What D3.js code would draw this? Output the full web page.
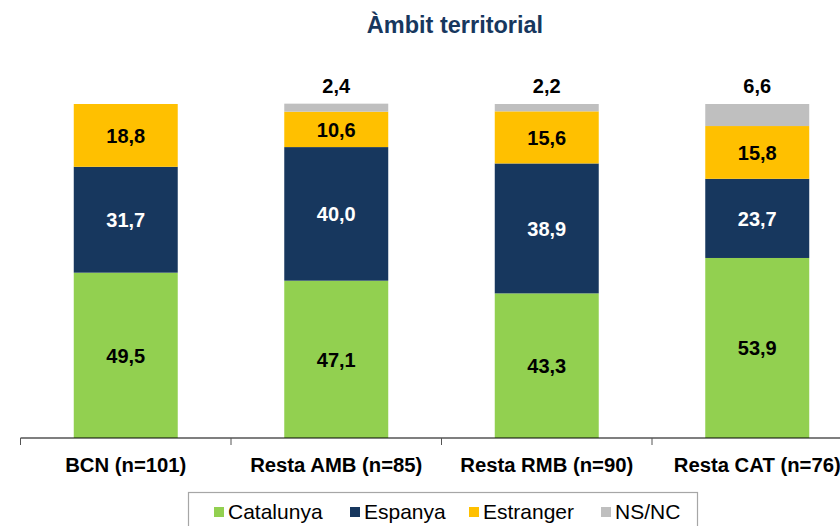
<!DOCTYPE html>
<html><head><meta charset="utf-8">
<script src="https://cdn.jsdelivr.net/npm/d3@7"></script>
<style>body{margin:0;background:#fff;}svg{display:block;font-family:"Liberation Sans",Arial,sans-serif;}</style>
</head><body><div id="chart"></div>
<script>
const categories = ["BCN (n=101)", "Resta AMB (n=85)", "Resta RMB (n=90)", "Resta CAT (n=76)"];
const seriesNames = ["Catalunya", "Espanya", "Estranger", "NS/NC"];
const catalunya = [49.5, 47.1, 43.3, 53.9];
const espanya = [31.7, 40.0, 38.9, 23.7];
const estranger = [18.8, 10.6, 15.6, 15.8];
const nsnc = [0, 2.4, 2.2, 6.6];
const colors = ["#92D050", "#17375E", "#FFC000", "#BFBFBF"];
const labelColors = ["#000", "#fff", "#000", "#000"];
const title = "Àmbit territorial";

const W = 840, H = 526;
const svg = d3.select("#chart").append("svg").attr("width", W).attr("height", H);

const x0 = 20.5, stepW = 210.5;
const x = d3.scaleBand().domain(categories).range([x0, x0 + stepW * categories.length])
  .paddingInner(0.506).paddingOuter(0.253);
const y = d3.scaleLinear().domain([0, 100]).range([438, 104]);

const values = [catalunya, espanya, estranger, nsnc];
const rows = categories.map((c, i) => {
  const o = {cat: c};
  seriesNames.forEach((s, j) => o[s] = values[j][i]);
  return o;
});
const stacked = d3.stack().keys(seriesNames)(rows);

svg.append("text").attr("x", 455).attr("y", 33).attr("text-anchor", "middle")
  .attr("font-size", 23.5).attr("font-weight", "bold").attr("fill", "#17375E").text(title);

stacked.forEach((layer, j) => {
  const g = svg.append("g");
  g.selectAll("rect").data(layer).join("rect")
    .attr("x", d => x(d.data.cat))
    .attr("width", x.bandwidth())
    .attr("y", d => y(d[1]))
    .attr("height", d => Math.max(0, y(d[0]) - y(d[1])))
    .attr("fill", colors[j]);
});

// segment labels
stacked.forEach((layer, j) => {
  if (j === 3) {
    svg.append("g").selectAll("text").data(layer.filter(d => d[1] - d[0] > 0)).join("text")
      .attr("x", d => x(d.data.cat) + x.bandwidth() / 2)
      .attr("y", d => y(d[1]) - 11)
      .attr("text-anchor", "middle").attr("font-size", 20).attr("font-weight", "bold").attr("fill", "#000")
      .text(d => d3.format(".1f")(d[1] - d[0]).replace(".", ","));
  } else {
    svg.append("g").selectAll("text").data(layer).join("text")
      .attr("x", d => x(d.data.cat) + x.bandwidth() / 2)
      .attr("y", d => (y(d[0]) + y(d[1])) / 2)
      .attr("dy", "0.36em")
      .attr("text-anchor", "middle").attr("font-size", 20).attr("font-weight", "bold").attr("fill", labelColors[j])
      .text(d => d3.format(".1f")(d[1] - d[0]).replace(".", ","));
  }
});

// axis
const ax = svg.append("g");
ax.append("line").attr("x1", x0).attr("x2", W).attr("y1", 438).attr("y2", 438).attr("stroke", "#000").attr("stroke-width", 1.2);
ax.selectAll("line.tick").data(categories).join("line").attr("class", "tick")
  .attr("x1", d => x(d) - x.step() * x.paddingInner() / 2).attr("x2", d => x(d) - x.step() * x.paddingInner() / 2)
  .attr("y1", 438).attr("y2", 445).attr("stroke", "#555");
ax.selectAll("text").data(categories).join("text")
  .attr("x", d => x(d) + x.bandwidth() / 2).attr("y", 471.5)
  .attr("text-anchor", "middle").attr("font-size", 20.3).attr("font-weight", "bold").attr("fill", "#000")
  .text(d => d);

// legend
const lg = svg.append("g");
lg.append("rect").attr("x", 188.5).attr("y", 492.5).attr("width", 509).attr("height", 40)
  .attr("fill", "#fff").attr("stroke", "#A6A6A6").attr("stroke-width", 1.2);
const legX = [214, 350, 469, 601];
seriesNames.forEach((s, j) => {
  lg.append("rect").attr("x", legX[j]).attr("y", 507).attr("width", 10).attr("height", 10).attr("fill", colors[j]);
  lg.append("text").attr("x", legX[j] + 14).attr("y", 518.5).attr("font-size", 21).attr("fill", "#000").text(s);
});
</script></body></html>
